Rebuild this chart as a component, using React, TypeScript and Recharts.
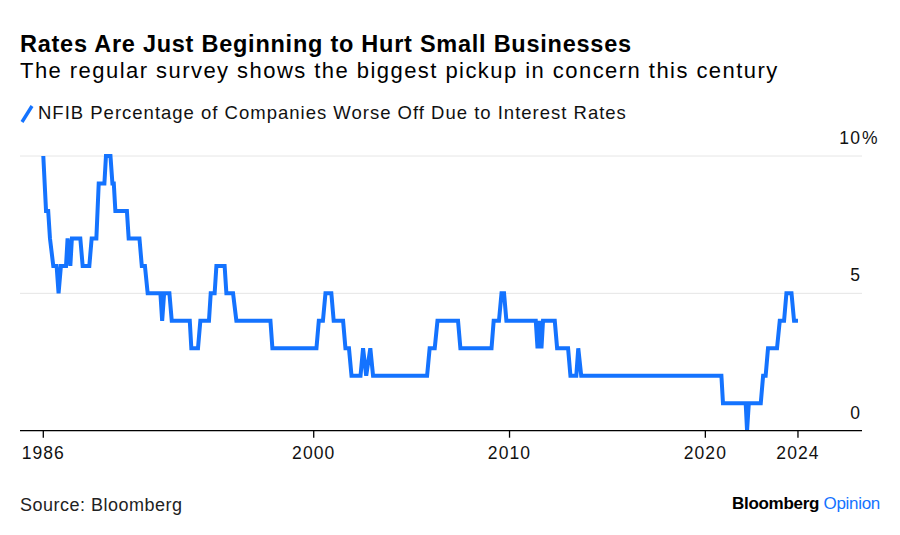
import React from "react";
import { LineChart, Line, XAxis, YAxis, CartesianGrid } from "recharts";

const years = [
  1986.19, 1986.33, 1986.44, 1986.53, 1986.7, 1986.87, 1986.97, 1987.09, 1987.35, 1987.43,
  1987.57, 1987.65, 1988.08, 1988.2, 1988.54, 1988.66, 1988.9, 1989.02, 1989.31, 1989.39,
  1989.62, 1989.72, 1989.79, 1989.87, 1990.46, 1990.55, 1991.1, 1991.22, 1991.38, 1991.52,
  1992.17, 1992.26, 1992.36, 1992.63, 1992.75, 1993.67, 1993.75, 1994.09, 1994.21, 1994.65,
  1994.74, 1994.94, 1995.03, 1995.45, 1995.54, 1995.88, 1996.05, 1997.79, 1997.89, 2000.14,
  2000.26, 2000.47, 2000.6, 2000.9, 2001.02, 2001.5, 2001.62, 2001.8, 2001.93, 2002.39,
  2002.52, 2002.68, 2002.89, 2003.03, 2005.79, 2005.92, 2006.18, 2006.32, 2007.37, 2007.49,
  2009.08, 2009.19, 2009.46, 2009.59, 2009.72, 2009.84, 2011.34, 2011.43, 2011.51, 2011.63,
  2011.71, 2012.31, 2012.43, 2012.99, 2013.11, 2013.41, 2013.51, 2013.66, 2020.82, 2020.9,
  2022.06, 2022.13, 2022.22, 2022.83, 2022.95, 2023.08, 2023.2, 2023.66, 2023.8, 2024.02,
  2024.14, 2024.4, 2024.53, 2024.73,
];

const values = [
  10, 8, 8, 7, 6, 6, 5, 6, 6, 7,
  6, 7, 7, 6, 6, 7, 7, 9, 9, 10,
  10, 9, 9, 8, 8, 7, 7, 6, 6, 5,
  5, 4, 5, 5, 4, 4, 3, 3, 4, 4,
  5, 5, 6, 6, 5, 5, 4, 4, 3, 3,
  4, 4, 5, 5, 4, 4, 3, 3, 2, 2,
  3, 2, 3, 2, 2, 3, 3, 4, 4, 3,
  3, 4, 4, 5, 5, 4, 4, 3, 4, 3,
  4, 4, 3, 3, 2, 2, 3, 2, 2, 1,
  1, 0, 1, 1, 2, 2, 3, 3, 4, 4,
  5, 5, 4, 4,
];

const xTicks = [1986.19, 2000, 2010, 2020, 2024.73];
const xTickLabels = ["1986", "2000", "2010", "2020", "2024"];
const yTicks = [0, 5, 10];
const yTickLabels = ["0", "5", "10"];

const title = "Rates Are Just Beginning to Hurt Small Businesses";
const subtitle = "The regular survey shows the biggest pickup in concern this century";
const seriesName = "NFIB Percentage of Companies Worse Off Due to Interest Rates";
const source = "Source: Bloomberg";

const data = years.map((y, i) => ({ year: y, value: values[i] }));

const BLUE = "#1473ff";
const FONT = "'Liberation Sans', Arial, Helvetica, sans-serif";

const XTick = (props: any) => {
  const { x, y, payload, index } = props;
  return (
    <text
      x={x}
      y={y + 19}
      textAnchor="middle"
      fontSize={17.5}
      letterSpacing={1.1}
      fill="#111"
      fontFamily={FONT}
    >
      {xTickLabels[index] ?? String(Math.floor(payload.value))}
    </text>
  );
};

const YTick = (props: any) => {
  const { y, payload, index } = props;
  const label = yTickLabels[index] ?? String(payload.value);
  const xr = 861;
  return (
    <g>
      <text
        x={xr}
        y={y - 12}
        textAnchor="end"
        fontSize={17.5}
        letterSpacing={1.1}
        fill="#111"
        fontFamily={FONT}
      >
        {label}
      </text>
      {payload.value === 10 ? (
        <text x={xr + 1} y={y - 12} textAnchor="start" fontSize={17.5} fill="#111" fontFamily={FONT}>
          %
        </text>
      ) : null}
    </g>
  );
};

export default function App() {
  return (
    <div
      style={{
        position: "absolute",
        left: 0,
        top: 0,
        width: 900,
        height: 535,
        background: "#fff",
        fontFamily: FONT,
        overflow: "hidden",
      }}
    >
      <div
        style={{
          position: "absolute",
          left: 20,
          top: 29.5,
          fontSize: 23.5,
          fontWeight: 700,
          letterSpacing: 0.75,
          lineHeight: "28px",
          color: "#000",
          whiteSpace: "nowrap",
        }}
      >
        {title}
      </div>
      <div
        style={{
          position: "absolute",
          left: 20,
          top: 56.7,
          fontSize: 22,
          letterSpacing: 1.45,
          lineHeight: "28px",
          color: "#000",
          whiteSpace: "nowrap",
        }}
      >
        {subtitle}
      </div>
      <svg
        width={16}
        height={22}
        style={{ position: "absolute", left: 19, top: 103 }}
      >
        <line x1={3} y1={19} x2={13} y2={3} stroke={BLUE} strokeWidth={3.4} />
      </svg>
      <div
        style={{
          position: "absolute",
          left: 38,
          top: 101,
          fontSize: 18.5,
          letterSpacing: 1.0,
          lineHeight: "24px",
          color: "#111",
          whiteSpace: "nowrap",
        }}
      >
        {seriesName}
      </div>

      <div style={{ position: "absolute", left: 0, top: 0 }}>
        <LineChart
          width={900}
          height={535}
          data={data}
          margin={{ top: 156, right: 0, left: 20, bottom: 74 }}
        >
          <CartesianGrid horizontal={true} vertical={false} stroke="#e6e6e6" strokeWidth={1} />
          <XAxis
            dataKey="year"
            type="number"
            domain={[1985, 2028]}
            ticks={xTicks}
            interval={0}
            height={30.3}
            axisLine={{ stroke: "#000", strokeWidth: 1.3 }}
            tickLine={{ stroke: "#000", strokeWidth: 1.3 }}
            tickSize={7}
            tick={<XTick />}
            allowDataOverflow
          />
          <YAxis
            orientation="right"
            type="number"
            domain={[0, 10]}
            ticks={yTicks}
            width={38}
            axisLine={false}
            tickLine={false}
            tick={<YTick />}
          />
          <Line
            type="linear"
            dataKey="value"
            stroke={BLUE}
            strokeWidth={4}
            dot={false}
            activeDot={false}
            isAnimationActive={false}
          />
        </LineChart>
      </div>

      <div
        style={{
          position: "absolute",
          left: 20,
          top: 493,
          fontSize: 18,
          letterSpacing: 0.5,
          lineHeight: "24px",
          color: "#222",
          whiteSpace: "nowrap",
        }}
      >
        {source}
      </div>
      <div
        style={{
          position: "absolute",
          right: 20,
          top: 492,
          fontSize: 17,
          lineHeight: "24px",
          whiteSpace: "nowrap",
          fontFamily: "'Liberation Sans Narrow', 'Liberation Sans', Arial, sans-serif",
          fontWeight: 700,
          letterSpacing: -0.3,
        }}
      >
        <span style={{ color: "#000" }}>Bloomberg</span>{" "}
        <span style={{ color: BLUE, fontWeight: 400 }}>Opinion</span>
      </div>
    </div>
  );
}
